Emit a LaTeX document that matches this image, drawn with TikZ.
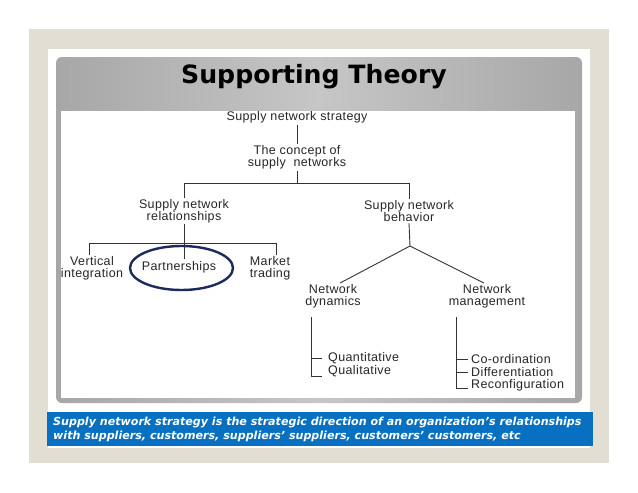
\documentclass[tikz,border=0pt]{standalone}
\usepackage{fontspec}
\usetikzlibrary{shapes.geometric}
\setmainfont{Liberation Sans}
\newfontfamily\treefont[LetterSpace=3]{Liberation Sans}
\newfontfamily\vfont{DejaVu Sans}
\definecolor{beige}{HTML}{E3DED4}
\definecolor{panelgray}{HTML}{A7A7A7}
\definecolor{panellight}{HTML}{C6C6C6}
\definecolor{bandblue}{HTML}{0870C0}
\definecolor{navy}{HTML}{1C2A5C}
\begin{document}
\begin{tikzpicture}[x=1pt,y=-1pt,
  tree/.style={font=\treefont\fontsize{12.5}{11.8}\selectfont, align=center, inner sep=1.5pt, text=black!85},
  item/.style={tree, anchor=west, inner sep=0pt},
  link/.style={draw=black!80, line width=0.9pt}]
\useasboundingbox (0,0) rectangle (638,493);
\fill[white] (0,0) rectangle (638,493);
\fill[beige] (29,29) rectangle (609,463);
\fill[white] (48,49) rectangle (590,448);
\shade[rounded corners=6pt, left color=panelgray, right color=panelgray, middle color=panellight] (56,57) rectangle (582,403);
\fill[white] (61,111) rectangle (575,398);
% title
\node[font=\vfont\bfseries\fontsize{25.2}{30}\selectfont, text=black] (title) at (314,77) {Supporting Theory};
% tree nodes
\node[tree] (sns) at (297,117) {Supply network strategy};
\node[tree] (concept) at (297,157.5) {The concept of\\supply \ networks};
\node[tree] (rel) at (184,211) {Supply network\\relationships};
\node[tree] (beh) at (409,211) {Supply network\\behavior};
\node[tree] (vi) at (92,268) {Vertical\\integration};
\node[tree] (ptext) at (179,267) {Partnerships};
\node[tree] (mt) at (270,268) {Market\\trading};
\node[draw=navy, line width=2.4pt, ellipse, minimum width=103pt, minimum height=44pt, inner sep=0pt] (hl) at (181.5,268) {};
\node[tree] (nd) at (333,296.5) {Network\\dynamics};
\node[tree] (nm) at (487,296.5) {Network\\management};
\node[item] (quan) at (328,358) {Quantitative};
\node[item] (qual) at (328,371) {Qualitative};
\node[item] (coord) at (471,359) {Co-ordination};
\node[item] (diff) at (471,372) {Differentiation};
\node[item] (reco) at (471,385) {Reconfiguration};
% junctions
\coordinate (j1) at (297,183);
\coordinate (j2) at (184,243);
\coordinate (j3) at (410,246);
\coordinate (bL) at (311,317);
\coordinate (bR) at (456,317);
% connectors
\draw[link] (sns.south) -- (concept.north);
\draw[link] (concept.south) -- (j1);
\draw[link] (rel.north) -- (rel.north |- j1) -- (beh.north |- j1) -- (beh.north);
\draw[link] (rel.south) -- (rel.south |- ptext.north);
\draw[link] ([xshift=-3pt]vi.north) -- ([xshift=-3pt]vi.north |- j2) -- ([xshift=6pt]mt.north |- j2) -- ([xshift=6pt]mt.north);
\draw[link] (beh.south) -- (j3);
\draw[link] (j3) -- ([xshift=7pt]nd.north);
\draw[link] (j3) -- ([xshift=-3pt]nm.north);
\draw[link] (bL) |- ([xshift=-6pt]quan.west);
\draw[link] (bL) |- ([xshift=-6pt,yshift=-5pt]qual.west);
\draw[link] (bR) |- ([xshift=-3pt]coord.west);
\draw[link] (bR) |- ([xshift=-3pt]diff.west);
\draw[link] (bR) |- ([xshift=-3pt,yshift=-3pt]reco.west);
% blue band
\fill[bandblue] (47,412) rectangle (593,446);
\node[anchor=west, align=left, inner sep=0pt, text=white, font=\vfont\bfseries\itshape\fontsize{11.1}{14}\selectfont] (band) at (53,429.5) {Supply network strategy is the strategic direction of an organization’s relationships\\with suppliers, customers, suppliers’ suppliers, customers’ customers, etc};
\end{tikzpicture}
\end{document}
